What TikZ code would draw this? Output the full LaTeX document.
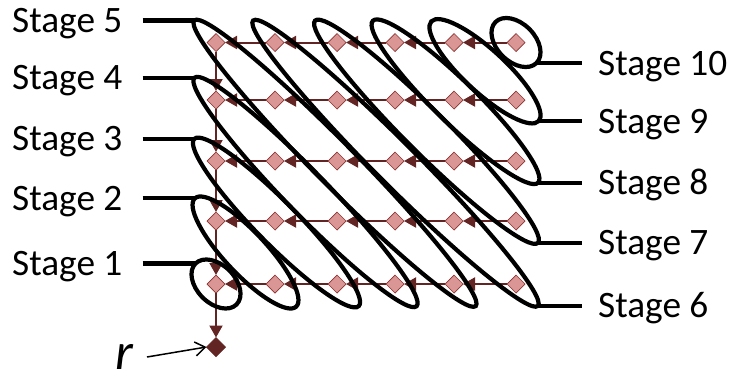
\documentclass[tikz,border=0pt]{standalone}
\usepackage{fontspec}
\setmainfont{Carlito}
\usetikzlibrary{shapes.geometric,arrows.meta,calc}
\definecolor{dred}{RGB}{99,37,35}
\definecolor{pinkf}{RGB}{217,150,148}
\definecolor{pinkb}{RGB}{140,50,48}
\tikzset{
  dia/.style={diamond, minimum size=18pt, inner sep=0pt, outer sep=0pt, fill=pinkf, draw=pinkb, line width=0.7pt},
  conn/.style={draw=dred, line width=2pt, -{Triangle[length=12pt,width=13pt]}},
  stageell/.style={ellipse, draw=black, line width=4.2pt, minimum height=42pt, inner sep=0pt, outer sep=0pt},
  lbl/.style={font=\fontsize{37.3}{40}\selectfont, inner sep=0pt, text height=24pt, text depth=0pt},
  lblline/.style={draw=black, line width=4.2pt},
}
\newcommand\stageellipse[3]{%
  \path let \p1=($(#3)-(#2)$), \n1={atan2(\y1,\x1)}, \n2={veclen(\x1,\y1)} in
    node[stageell, rotate=\n1, minimum width={(\n2+62)*1pt}] (#1) at ($(#2)!0.5!(#3)$) {};%
}
\begin{document}
\begin{tikzpicture}[x=1pt,y=-1pt]
\useasboundingbox (0,0) rectangle (732,376);
% diamonds
\foreach \r/\y in {1/42.5,2/100,3/161,4/221,5/284}
  \foreach \c/\x in {1/216,2/275,3/337,4/395,5/454,6/516}
    \node[dia] (d\r\c) at (\x,\y) {};
\node[dia, fill=dred, draw=dred, minimum size=19pt] (R) at (216,347) {};
% horizontal connectors
\foreach \r in {1,...,5}
  \foreach \c [count=\n from 2] in {1,...,5}
    \draw[conn] (d\r\n) -- (d\r\c);
% vertical connectors
\draw[conn] (d11) -- (d21);
\draw[conn] (d21) -- (d31);
\draw[conn] (d31) -- (d41);
\draw[conn] (d41) -- (d51);
\draw[conn] (d51) -- (R);
% stage ellipses
\node[stageell, rotate=-45, minimum width=58pt, minimum height=38pt] (E1) at (d51) {};
\stageellipse{E2}{d41}{d52}
\stageellipse{E3}{d31}{d53}
\stageellipse{E4}{d21}{d54}
\stageellipse{E5}{d11}{d55}
\stageellipse{E6}{d12}{d56}
\stageellipse{E7}{d13}{d46}
\stageellipse{E8}{d14}{d36}
\stageellipse{E9}{d15}{d26}
\node[stageell, rotate=-45, minimum width=58pt, minimum height=38pt] (E10) at (d16) {};
% labels
\coordinate (lx) at (12,0);
\coordinate (rx) at (598,0);
\foreach \k in {1,...,5}{
  \node[lbl, anchor=west] (L\k) at (lx |- E\k.west) {Stage \k};
  \draw[lblline] ([xshift=20pt]L\k.east) -- (E\k.west);
}
\foreach \k in {6,...,10}{
  \node[lbl, anchor=west] (L\k) at (rx |- E\k.east) {Stage \k};
  \draw[lblline] (E\k.east) -- ([xshift=-16pt]L\k.west);
}
% r label
\node[font=\fontsize{52}{52}\selectfont\itshape, inner sep=0pt, anchor=base] (rl) at (124,369) {r};
\coordinate (rs) at (147,357);
\draw[black, line width=1.5pt, -{Straight Barb[length=10pt,width=14pt]}] (rs) -- (R.west);
\end{tikzpicture}
\end{document}
